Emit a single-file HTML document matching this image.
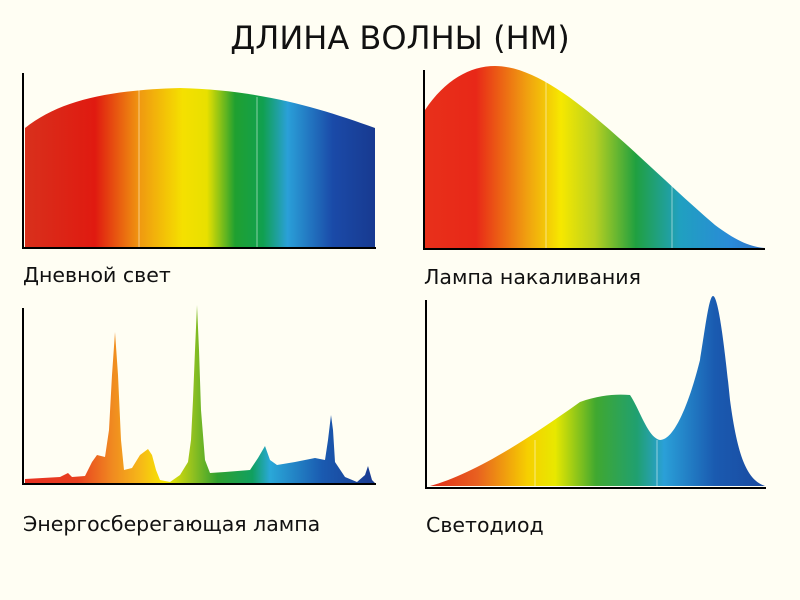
<!DOCTYPE html>
<html><head><meta charset="utf-8"><style>
body{margin:0;background:#fffef3;}
svg{display:block}
text{font-family:"DejaVu Sans","Liberation Sans",sans-serif;fill:#111}
</style></head><body>
<svg width="800" height="600" viewBox="0 0 800 600">
<rect width="800" height="600" fill="#fffef3"/>
<defs>
<linearGradient id="g1" x1="25" x2="375" y1="0" y2="0" gradientUnits="userSpaceOnUse">
<stop offset="0" stop-color="#d8301c"/><stop offset="0.2" stop-color="#e01a10"/><stop offset="0.33" stop-color="#f09a10"/>
<stop offset="0.45" stop-color="#f5e000"/><stop offset="0.52" stop-color="#e8e000"/><stop offset="0.6" stop-color="#20a030"/>
<stop offset="0.68" stop-color="#10a050"/><stop offset="0.75" stop-color="#2aa0d8"/><stop offset="0.88" stop-color="#1a4aa8"/><stop offset="1" stop-color="#183a90"/>
</linearGradient>
<linearGradient id="g2" x1="425" x2="765" y1="0" y2="0" gradientUnits="userSpaceOnUse">
<stop offset="0" stop-color="#e8301a"/><stop offset="0.15" stop-color="#e82818"/><stop offset="0.3" stop-color="#f0a010"/>
<stop offset="0.4" stop-color="#f6e800"/><stop offset="0.5" stop-color="#b8d020"/><stop offset="0.62" stop-color="#20a040"/>
<stop offset="0.75" stop-color="#20a0c0"/><stop offset="0.9" stop-color="#2a8ad8"/><stop offset="1" stop-color="#3070c0"/>
</linearGradient>
<linearGradient id="g3" x1="25" x2="375" y1="0" y2="0" gradientUnits="userSpaceOnUse">
<stop offset="0" stop-color="#e83020"/><stop offset="0.15" stop-color="#e84020"/><stop offset="0.25" stop-color="#f08a20"/>
<stop offset="0.33" stop-color="#f6b818"/><stop offset="0.4" stop-color="#f6e800"/><stop offset="0.48" stop-color="#90c020"/>
<stop offset="0.55" stop-color="#30a030"/><stop offset="0.65" stop-color="#10a060"/><stop offset="0.7" stop-color="#2aa8d8"/>
<stop offset="0.85" stop-color="#1a5ab0"/><stop offset="1" stop-color="#1a3a90"/>
</linearGradient>
<linearGradient id="g4" x1="426" x2="766" y1="0" y2="0" gradientUnits="userSpaceOnUse">
<stop offset="0" stop-color="#e02818"/><stop offset="0.15" stop-color="#e86020"/><stop offset="0.3" stop-color="#f6d000"/>
<stop offset="0.38" stop-color="#e8e800"/><stop offset="0.5" stop-color="#40a830"/><stop offset="0.62" stop-color="#20a070"/>
<stop offset="0.7" stop-color="#2aa0d8"/><stop offset="0.85" stop-color="#1a5ab0"/><stop offset="1" stop-color="#1a4aa0"/>
</linearGradient>
</defs>
<text x="400" y="49" font-size="32" text-anchor="middle">ДЛИНА ВОЛНЫ (НМ)</text>

<path d="M25,128 C60,100 110,90 180,88 C260,90 320,108 375,128 L375,248 L25,248 Z" fill="url(#g1)"/>
<line x1="139" y1="90" x2="139" y2="248" stroke="#fff" stroke-opacity="0.5"/>
<line x1="257" y1="97" x2="257" y2="248" stroke="#fff" stroke-opacity="0.5"/>
<path d="M23,73 V248 H376" fill="none" stroke="#000" stroke-width="2"/>
<text x="23" y="282" font-size="20.5">Дневной свет</text>

<path d="M425,110 C445,80 470,66 495,66 C530,66 570,95 610,130 C650,165 680,195 715,225 C735,240 750,247 765,248 L425,248 Z" fill="url(#g2)"/>
<line x1="546" y1="75" x2="546" y2="248" stroke="#fff" stroke-opacity="0.5"/>
<line x1="672" y1="185" x2="672" y2="248" stroke="#fff" stroke-opacity="0.5"/>
<path d="M424,70 V249 H765" fill="none" stroke="#000" stroke-width="2"/>
<text x="424" y="284" font-size="20.5">Лампа накаливания</text>

<path d="M25,479 L60,477 L68,473 L72,477 L85,476 L92,462 L97,455 L105,457 L109,430 L112,375 L115,332 L118,375 L121,440 L124,470 L132,468 L140,455 L148,449 L152,455 L156,470 L160,480 L170,482 L180,475 L188,462 L191,440 L193,400 L195,350 L197,305 L199,350 L201,410 L205,460 L210,473 L225,472 L250,470 L258,458 L265,446 L270,460 L277,465 L295,462 L315,458 L325,460 L328,440 L331,415 L333,430 L335,462 L345,477 L357,482 L365,475 L368,466 L372,480 L375,483 L25,483 Z" fill="url(#g3)" stroke-linejoin="round"/>
<path d="M23,308 V484 H376" fill="none" stroke="#000" stroke-width="2"/>
<text x="23" y="531" font-size="20.5">Энергосберегающая лампа</text>

<path d="M430,486 C470,475 520,445 580,402 C600,395 615,394 630,395 C640,410 648,438 660,440 C675,440 690,400 700,360 C705,330 709,296 713,296 C718,296 724,340 730,400 C738,460 748,480 765,486 Z" fill="url(#g4)"/>
<line x1="535" y1="440" x2="535" y2="487" stroke="#fff" stroke-opacity="0.5"/>
<line x1="657" y1="440" x2="657" y2="487" stroke="#fff" stroke-opacity="0.5"/>
<path d="M426,300 V488 H766" fill="none" stroke="#000" stroke-width="2"/>
<text x="426" y="532" font-size="20.5">Светодиод</text>
</svg>
</body></html>
